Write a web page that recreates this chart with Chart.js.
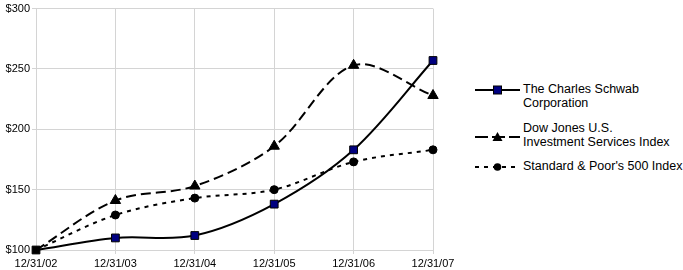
<!DOCTYPE html>
<html>
<head>
<meta charset="utf-8">
<script src="https://cdn.jsdelivr.net/npm/chart.js@4"></script>
<style>
  html, body { margin: 0; padding: 0; background: #fff; }
  #wrap { position: relative; width: 683px; height: 270px; font-family: "Liberation Sans", Arial, sans-serif; }
  #chartBox { position: absolute; left: 0; top: 0; width: 470px; height: 270px; }
  .item { position: absolute; left: 475px; font-size: 12.5px; line-height: 14px; color: #000; white-space: nowrap; }
  .item svg { position: absolute; left: 0; }
  .item span { position: absolute; left: 48px; top: 0; }
</style>
</head>
<body>
<div id="wrap">
  <div id="chartBox"><canvas id="c"></canvas></div>
  <div id="legend"></div>
</div>
<script>
const categories = ["12/31/02", "12/31/03", "12/31/04", "12/31/05", "12/31/06", "12/31/07"];
const schwab = [100, 110, 112, 138, 183, 257];
const dowJones = [100, 141, 153, 186, 253, 228];
const sp500 = [100, 129, 143, 150, 173, 183];
const yTicks = [100, 150, 200, 250, 300];
const seriesNames = ["The Charles Schwab\nCorporation", "Dow Jones U.S.\nInvestment Services Index", "Standard & Poor's 500 Index"];

const styles = [
  { dash: [], legendDash: [], point: 'rect', radius: 5.5, fill: '#000080', top: 82, symY: 8 },
  { dash: [10, 5], legendDash: [13, 4], point: 'triangle', radius: 6, fill: '#000', top: 121, symY: 16 },
  { dash: [4, 5], legendDash: [4, 5], point: 'circle', radius: 4, fill: '#000', top: 159, symY: 8 }
];
const values = [schwab, dowJones, sp500];

const datasets = values.map((v, i) => ({
  label: seriesNames[i].replace('\n', ' '),
  data: v,
  clip: false,
  borderColor: '#000',
  borderWidth: 2,
  borderDash: styles[i].dash,
  tension: 0.33,
  fill: false,
  pointStyle: styles[i].point,
  // the shared starting point is covered by the Schwab square
  pointRadius: ctx => (ctx.dataIndex === 0 && i > 0 ? 0 : styles[i].radius),
  pointHoverRadius: styles[i].radius,
  pointBackgroundColor: ctx => (ctx.dataIndex === 0 ? '#000' : styles[i].fill),
  pointBorderColor: '#000',
  pointBorderWidth: 1
}));

const font = { family: '"Liberation Sans", Arial, sans-serif', size: 11 };
new Chart(document.getElementById('c'), {
  type: 'line',
  data: { labels: categories, datasets },
  options: {
    responsive: true,
    maintainAspectRatio: false,
    animation: false,
    layout: { padding: { top: 6, right: 37, bottom: 0, left: 0 } },
    plugins: { legend: { display: false }, tooltip: { enabled: false } },
    scales: {
      x: {
        offset: false,
        grid: { color: '#d4d4d4', lineWidth: 1, tickLength: 4 },
        border: { color: '#d4d4d4' },
        ticks: { color: '#000', font, maxRotation: 0, autoSkip: false, padding: 3 },
        afterFit: s => { s.height = 20; }
      },
      y: {
        min: 100, max: 300,
        afterBuildTicks: s => { s.ticks = yTicks.map(v => ({ value: v })); },
        grid: { color: '#d4d4d4', lineWidth: 1, tickLength: 4 },
        border: { color: '#d4d4d4' },
        ticks: { color: '#000', font, padding: 2, callback: v => '$' + v },
        afterFit: s => { s.width = 36; }
      }
    }
  }
});

// HTML legend with line + marker symbols
const legend = document.getElementById('legend');
styles.forEach((st, i) => {
  const div = document.createElement('div');
  div.className = 'item';
  div.style.top = st.top + 'px';
  const w = 45, h = 14, cy = 7;
  let marker = '';
  if (st.point === 'rect') marker = `<rect x="${w/2-4}" y="${cy-4}" width="8" height="8" fill="${st.fill}" stroke="#000" stroke-width="1"/>`;
  else if (st.point === 'triangle') marker = `<polygon points="${w/2-5},${cy+4} ${w/2+5},${cy+4} ${w/2},${cy-5}" fill="#000"/>`;
  else marker = `<circle cx="${w/2}" cy="${cy}" r="3.8" fill="#000"/>`;
  const dash = st.legendDash.length ? `stroke-dasharray="${st.legendDash.join(' ')}"` : '';
  div.innerHTML = `<svg width="${w}" height="${h}" style="top:${st.symY - cy}px"><line x1="0" y1="${cy}" x2="${w}" y2="${cy}" stroke="#000" stroke-width="2" ${dash}/>${marker}</svg><span>${seriesNames[i].replace('\n', '<br>')}</span>`;
  legend.appendChild(div);
});
</script>
</body>
</html>
